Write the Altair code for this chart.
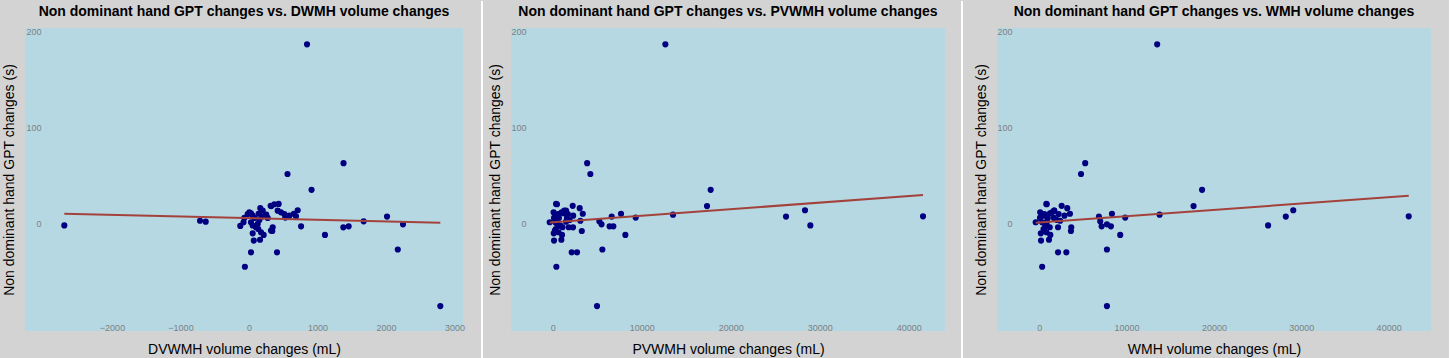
import altair as alt
import pandas as pd

# Non dominant hand GPT changes (s), one value per subject
gpt_change = [187.0, 63.0, 51.7, 35.2, 18.3, 9.3, 6.3, 10.2, 7.3, 2.4,
              -0.8, -2.8, -2.8, -3.9, -11.8, -27.0, -86.0, 7.3, 13.9, -1.9,
              7.6, -45.0, -30.0, -30.0, -17.7, -16.8, -7.7, 3.0, 2.0, 10.3,
              16.1, 18.5, 20.5, 20.2, 1.4, -2.4, 5.9, 10.0, 11.8, 10.8,
              8.3, 5.9, 1.4, -2.0, -3.8, -0.3, 3.8, 13.5, 5.9, 13.5,
              11.8, 10.0, 8.3, -5.6, -9.0, -11.8, -10.1, -7.3, -3.8]
# DWMH volume changes (mL)
dwmh_change = [847, 1380, 562, 913, 326, 252, 530, 655, 190, 1674,
               2248, 760, 1455, 1377, 1109, 2172, 2793, 2015, 711, -2696,
               686, -60, 29, 409, 70, 161, 340, -715, -632, 140,
               165, 316, 433, 370, -80, -127, -68, -19, 5, 29,
               54, 78, 29, 54, 102, 127, 151, 200, 273, 419,
               467, 516, 589, 136, 175, 214, 54, 321, 346]
# PVWMH volume changes (mL)
pvwmh_change = [12660, 3870, 4232, 17750, 17340, 13520, 9326, 7678, 6630, 5243,
                5490, 6390, 6816, 2285, 8165, 5581, 4981, 26217, 28350, 28950,
                41610, 412, 2135, 2735, 150, 974, 3270, 3109, 1500, 3380,
                3034, 2247, 380, 480, -337, 900, 150, 600, 100, 1200,
                450, 1600, 300, 800, 1100, 500, 1900, 1500, 700, 1300,
                1000, 1700, 2300, 350, 650, 1050, 120, 250, 1800]
# WMH volume changes (mL)
wmh_change = [13500, 5260, 4780, 18640, 17666, 13776, 9840, 8318, 6831, 6979,
              7746, 7140, 8203, 3662, 9268, 7746, 7746, 28226, 29080, 26200,
              42300, 330, 2150, 3100, 200, 1110, 3627, 2394, 870, 3513,
              3204, 2563, 813, 850, -412, 773, 82, 581, 105, 1229,
              504, 1678, 329, 854, 1202, 627, 2051, 1700, 973, 1719,
              1467, 2216, 2889, 486, 825, 1264, 174, 571, 2146]

y_ticks = [0, 100, 200]
dwmh_ticks = [-2000, -1000, 0, 1000, 2000, 3000]
vol_ticks = [0, 10000, 20000, 30000, 40000]

df = pd.DataFrame({
    "gpt": gpt_change,
    "dwmh": dwmh_change,
    "pvwmh": pvwmh_change,
    "wmh": wmh_change,
})
sep_df = pd.DataFrame({"k": [0]})

FONT = "Liberation Sans"
BG = "#d3d3d3"
PLOT_BG = "#b6d8e3"
H = 303


def panel(col, xtitle, title, xdomain, xticks, sep_color, sep_x, width, ylab_pad):
    xaxis = alt.Axis(values=xticks, format="d", ticks=False, domain=False, grid=False,
                     labelFontSize=9, labelColor="#808080", labelFont=FONT,
                     labelPadding=-1, labelBaseline="alphabetic",
                     title=xtitle, titleFontSize=14, titleFontWeight="normal",
                     titleFont=FONT, titleColor="#000000", titleY=18,
                     titleBaseline="middle")
    yaxis = alt.Axis(values=y_ticks, format="d", ticks=False, domain=False, grid=False,
                     labelFontSize=9, labelColor="#808080", labelFont=FONT,
                     labelAlign="right", labelPadding=ylab_pad,
                     title="Non dominant hand GPT changes (s)", titleFontSize=14,
                     titleFontWeight="normal", titleFont=FONT, titleColor="#000000",
                     titleX=-16, titleY=H / 2, titleBaseline="middle", titleAngle=270)
    xenc = alt.X(f"{col}:Q", scale=alt.Scale(domain=xdomain, nice=False, zero=False),
                 axis=xaxis)
    yenc = alt.Y("gpt:Q", scale=alt.Scale(domain=[-112, 204], nice=False, zero=False),
                 axis=yaxis)
    pts = alt.Chart(df).mark_circle(size=38, color="#000080", opacity=1).encode(x=xenc, y=yenc)
    line = (alt.Chart(df)
            .transform_regression(col, "gpt")
            .mark_line(color="#a3423b", strokeWidth=2, clip=True)
            .encode(x=f"{col}:Q", y="gpt:Q"))
    sep = alt.Chart(sep_df).mark_rule(color=sep_color, strokeWidth=2).encode(
        x=alt.value(sep_x), y=alt.value(-27), y2=alt.value(331))
    return alt.layer(pts, line, sep).properties(
        width=width, height=H,
        title=alt.TitleParams(title, fontSize=14, fontWeight="bold", font=FONT,
                              color="#000000", anchor="middle", offset=-19),
    )


p1 = panel("dwmh", "DVWMH volume changes (mL)",
           "Non dominant hand GPT changes vs. DWMH volume changes",
           [-3270, 3124], dwmh_ticks, BG, -1, 438, -16)
p2 = panel("pvwmh", "PVWMH volume changes (mL)",
           "Non dominant hand GPT changes vs. PVWMH volume changes",
           [-4685, 44080], vol_ticks, "#ffffff", -29, 434, -15)
p3 = panel("wmh", "WMH volume changes (mL)",
           "Non dominant hand GPT changes vs. WMH volume changes",
           [-4840, 44850], vol_ticks, "#ffffff", -35, 434, -15)

chart = (alt.hconcat(p1, p2, p3, spacing=16)
         .properties(background=BG, padding={"left": 1, "top": 0, "right": 18, "bottom": 0})
         .configure_view(fill=PLOT_BG, stroke=None))

chart.save("out.html", embed_options={"renderer": "svg", "actions": False})
